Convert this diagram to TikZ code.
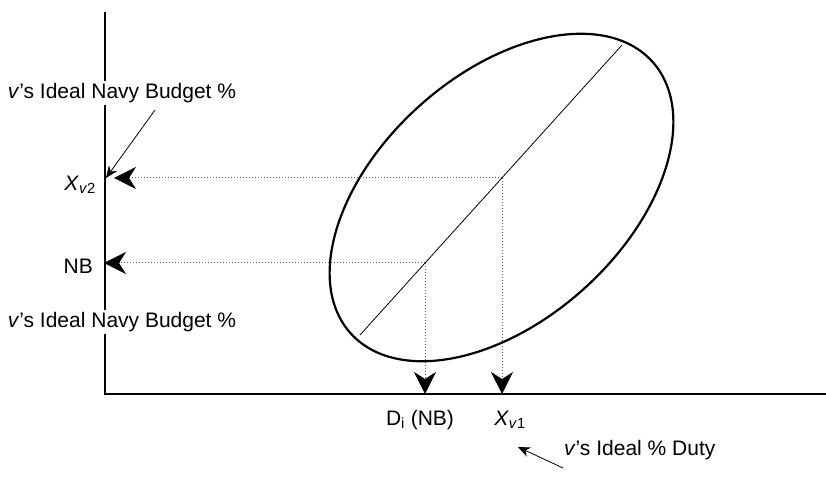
\documentclass[tikz,border=0pt]{standalone}
\usepackage{fontspec}
\setmainfont{Liberation Sans}
\usetikzlibrary{arrows.meta}

\begin{document}
\begin{tikzpicture}[x=1pt,y=1pt,
  lab/.style={font=\fontsize{21}{25}\selectfont, inner sep=2pt},
  guide/.style={black!65, dash pattern=on 0.9pt off 2.1pt, line width=1pt},
  bigtip/.style={-{Stealth[black,length=22pt,width=22pt,inset=7pt]}}]
\useasboundingbox (0,0) rectangle (826,478);

% axes
\coordinate (top) at (105,466);
\coordinate (o) at (105,84);
\coordinate (right) at (826,84);
\draw[line width=1.3pt] (top) -- (o) -- (right);

% ellipse and its diagonal
\coordinate (c) at (501.5,280.5);
\draw[line width=2.2pt, rotate around={42:(c)}] (c) ellipse [x radius=203, y radius=123];
\coordinate (lo) at (360,143);
\coordinate (hi) at (622,433);
\draw[line width=0.8pt] (lo) -- (hi);

% points on the diagonal and where they meet the axes
\coordinate (pnb) at (425,215);
\coordinate (pxv) at (502,300);
\coordinate (nbtip) at (104,215);
\coordinate (xvtip) at (114,300);
\coordinate (ditip) at (425,84);
\coordinate (xonetip) at (502,84);

\draw[guide,bigtip] (pnb) -- (nbtip);
\draw[guide,bigtip] (pxv) -- (xvtip);
\draw[guide,bigtip] (pnb) -- (ditip);
\draw[guide,bigtip] (pxv) -- (xonetip);

% labels on the y axis
\node[lab, fill=white] (budgettop) at (122,385) {\textit{v}’s Ideal Navy Budget \%};
\node[lab, fill=white] (budgetlow) at (122,156) {\textit{v}’s Ideal Navy Budget \%};
\node[lab, anchor=east] (xvtwo) at (98,293) {\textit{X}\textsubscript{\textit{v}2}};
\node[lab, anchor=east] (nb) at (95,212) {NB};
\coordinate (ptr) at (155,368);
\coordinate (axtip) at (106,300);
\draw[line width=0.8pt, -{Stealth[length=12pt,width=10pt]}] (ptr) -- (axtip);

% labels on the x axis
\node[lab] (di) at (420,58) {D\textsubscript{i} (NB)};
\node[lab] (xone) at (510,58) {\textit{X}\textsubscript{\textit{v}1}};
\node[lab, anchor=west] (duty) at (562,28) {\textit{v}’s Ideal \% Duty};
\coordinate (dutyfoot) at (563,10);
\coordinate (dutytip) at (518,31);
\draw[line width=0.8pt, -{Stealth[length=12pt,width=10pt]}] (dutyfoot) -- (dutytip);

\end{tikzpicture}
\end{document}
